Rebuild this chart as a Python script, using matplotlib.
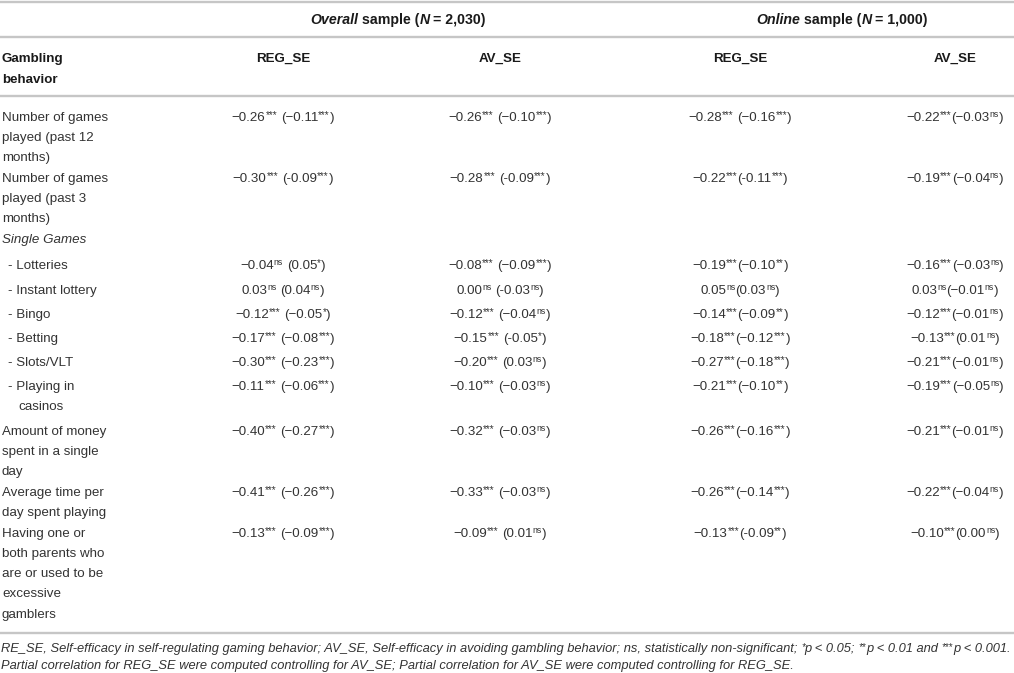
import re
import matplotlib
matplotlib.use("Agg")
import matplotlib.pyplot as plt

plt.rcParams['font.family'] = ['Liberation Sans', 'DejaVu Sans']

######################################################################
# Datos de la tabla
######################################################################

groups = [[("Overall", 'bi'), (" sample (", 'b'), ("N", 'bi'), (" = 2,030)", 'b')],
          [("Online", 'bi'), (" sample (", 'b'), ("N", 'bi'), (" = 1,000)", 'b')]]
col_heads = ["REG_SE", "AV_SE", "REG_SE", "AV_SE"]
first_head = ["Gambling", "behavior"]

row_labels = [
    ["Number of games", "played (past 12", "months)"],
    ["Number of games", "played (past 3", "months)"],
    ["Single Games"],
    ["- Lotteries"],
    ["- Instant lottery"],
    ["- Bingo"],
    ["- Betting"],
    ["- Slots/VLT"],
    ["- Playing in", "   casinos"],
    ["Amount of money", "spent in a single", "day"],
    ["Average time per", "day spent playing"],
    ["Having one or", "both parents who", "are or used to be", "excessive", "gamblers"],
]

overall_reg = ["−0.26*** (−0.11***)", "−0.30*** (-0.09***)", "",
               "−0.04ns (0.05*)", "0.03ns (0.04ns)", "−0.12*** (−0.05*)",
               "−0.17*** (−0.08***)", "−0.30*** (−0.23***)", "−0.11*** (−0.06***)",
               "−0.40*** (−0.27***)", "−0.41*** (−0.26***)", "−0.13*** (−0.09***)"]
overall_av = ["−0.26*** (−0.10***)", "−0.28*** (-0.09***)", "",
              "−0.08*** (−0.09***)", "0.00ns (-0.03ns)", "−0.12*** (−0.04ns)",
              "−0.15*** (-0.05*)", "−0.20*** (0.03ns)", "−0.10*** (−0.03ns)",
              "−0.32*** (−0.03ns)", "−0.33*** (−0.03ns)", "−0.09*** (0.01ns)"]
online_reg = ["−0.28*** (−0.16***)", "−0.22***(-0.11***)", "",
              "−0.19***(−0.10**)", "0.05ns(0.03ns)", "−0.14***(−0.09**)",
              "−0.18***(−0.12***)", "−0.27***(−0.18***)", "−0.21***(−0.10**)",
              "−0.26***(−0.16***)", "−0.26***(−0.14***)", "−0.13***(-0.09**)"]
online_av = ["−0.22***(−0.03ns)", "−0.19***(−0.04ns)", "",
             "−0.16***(−0.03ns)", "0.03ns(−0.01ns)", "−0.12***(−0.01ns)",
             "−0.13***(0.01ns)", "−0.21***(−0.01ns)", "−0.19***(−0.05ns)",
             "−0.21***(−0.01ns)", "−0.22***(−0.04ns)", "−0.10***(0.00ns)"]

notes = ["RE_SE, Self-efficacy in self-regulating gaming behavior; AV_SE, Self-efficacy in avoiding gambling behavior; "
         "ns, statistically non-significant; *p < 0.05; **p < 0.01 and ***p < 0.001.",
         "Partial correlation for REG_SE were computed controlling for AV_SE; Partial correlation for AV_SE were computed controlling for REG_SE."]

######################################################################
# Posiciones (pixeles)
######################################################################

W, H = 1014, 673
row_y = [116, 177, 238, 264, 289, 313, 337, 361, 385, 430, 491, 532]
line_h = 20.3
col_x = [283, 500, 740, 955]
group_x = [398, 842]
rule_y = [1.5, 37, 96, 633]
note_y = [648, 665]

BODY = '#333333'
HEAD = '#1a1a1a'
FS = 9.6

fig = plt.figure(figsize=(W / 100, H / 100), dpi=100)
ax = fig.add_axes([0, 0, 1, 1])
ax.set_xlim(0, W)
ax.set_ylim(H, 0)
ax.axis('off')
rend = fig.canvas.get_renderer()


def piece(txt, size, kind, color):
    kw = dict(fontsize=size, color=color, va='baseline', ha='left')
    if 'b' in kind:
        kw['fontweight'] = 'bold'
    if 'i' in kind:
        kw['fontstyle'] = 'italic'
    t = ax.text(0, 0, txt.strip(), **kw)
    sp = 0.278 * size * 100 / 72
    lead = (len(txt) - len(txt.lstrip(' '))) * sp
    trail = (len(txt) - len(txt.rstrip(' '))) * sp
    w = t.get_window_extent(rend).width if txt.strip() else 0
    return t, lead, w, trail


def draw_runs(x, yc, runs, size=FS, color=BODY, ha='left'):
    # runs: (texto, tipo) ; tipo con 'b','i','s' (superindice)
    base = yc + 0.34 * size * 100 / 72
    items = []
    total = 0
    for txt, kind in runs:
        if 's' in kind:
            sz = size * (0.74 if txt.startswith('*') else 0.66)
        else:
            sz = size
        t, lead, w, trail = piece(txt, sz, kind, color)
        items.append((t, lead, w, trail, kind))
        total += lead + w + trail
    if ha == 'center':
        x = x - total / 2
    for t, lead, w, trail, kind in items:
        x += lead
        dy = 0
        if 's' in kind:
            dy = -0.26 * size if t.get_text().startswith('*') else -0.36 * size
        t.set_position((x, base + dy))
        x += w + trail
    return [it[0] for it in items], total


def cell_runs(s, kind=''):
    out = []
    for part in re.split(r'(\*+|(?<=\d)ns)', s):
        if not part:
            continue
        if re.fullmatch(r'\*+|ns', part):
            out.append((part, kind + 's'))
        else:
            out.append((part, kind))
    return out


for y in rule_y:
    ax.axhline(y, color='#c6c6c6', lw=1.7)

for gx, g in zip(group_x, groups):
    draw_runs(gx, 19, g, size=10.2, color=HEAD, ha='center')

for i, t in enumerate(first_head):
    draw_runs(2, 57 + i * 21, [(t, 'b')], color=HEAD)
for hx, h in zip(col_x, col_heads):
    draw_runs(hx, 57, [(h, 'b')], color=HEAD, ha='center')

for y0, lab in zip(row_y, row_labels):
    for j, t in enumerate(lab):
        kind = 'i' if t == "Single Games" else ''
        x = 8 if t.startswith('-') else 2
        if t.startswith('   '):
            x = 18
        draw_runs(x, y0 + j * line_h, [(t.strip(), kind)])

for cx, col in zip(col_x, [overall_reg, overall_av, online_reg, online_av]):
    for y0, v in zip(row_y, col):
        if v:
            draw_runs(cx, y0, cell_runs(v), ha='center')

# tamaño de la nota ajustado al ancho de la primera linea
texts, tot = draw_runs(1, note_y[0], cell_runs(notes[0], 'i'), size=10)
for t in texts:
    t.remove()
note_fs = 10 * 1010 / tot
for yy, n in zip(note_y, notes):
    draw_runs(1, yy, cell_runs(n, 'i'), size=note_fs)

fig.savefig('out.png', dpi=100)
